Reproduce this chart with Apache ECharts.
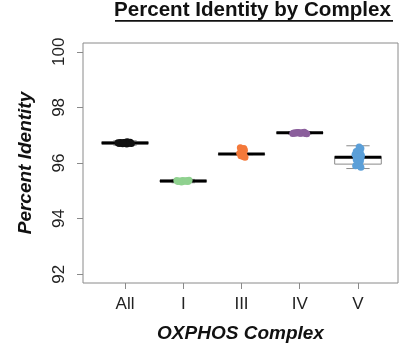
<!DOCTYPE html>
<html><head><meta charset="utf-8">
<script src="https://cdn.jsdelivr.net/npm/echarts@6/dist/echarts.min.js"></script>
<style>html,body{margin:0;padding:0;background:#fff}#c{width:401px;height:348px}</style>
</head><body><div id="c"></div>
<script>
const categories = ['All', 'I', 'III', 'IV', 'V'];
const yTicks = [92, 94, 96, 98, 100];
// box stats: [min, q1, median, q3, max]
const boxAll = [96.64, 96.69, 96.72, 96.76, 96.80];
const boxI   = [95.29, 95.32, 95.35, 95.38, 95.41];
const boxIII = [96.30, 96.315, 96.32, 96.325, 96.34];
const boxIV  = [97.04, 97.07, 97.09, 97.10, 97.12];
const boxV   = [95.80, 95.96, 96.21, 96.23, 96.62];
// points (values) and horizontal jitter (category units)
const ptsAll = [96.70, 96.72, 96.74, 96.71, 96.73, 96.75, 96.69, 96.72, 96.76, 96.70, 96.74, 96.68, 96.73, 96.71, 96.75, 96.72];
const jitAll = [-0.10, -0.06, -0.02, 0.02, 0.06, 0.09, -0.04, 0.00, 0.04, 0.11, -0.08, 0.03, -0.12, 0.08, 0.01, -0.03];
const ptsI = [95.33, 95.35, 95.37, 95.34, 95.36, 95.38, 95.32, 95.35, 95.36, 95.34, 95.37, 95.33];
const jitI = [-0.09, -0.05, -0.01, 0.03, 0.07, 0.10, -0.03, 0.01, 0.05, -0.07, -0.11, 0.08];
const ptsIII = [96.55, 96.52, 96.46, 96.40, 96.35, 96.32, 96.29, 96.26, 96.23, 96.21];
const jitIII = [-0.02, 0.04, 0.05, 0.03, -0.03, 0.02, 0.04, -0.01, 0.03, 0.06];
const ptsIV = [97.06, 97.08, 97.10, 97.07, 97.09, 97.11, 97.05, 97.08, 97.10, 97.07, 97.09, 97.06, 97.08];
const jitIV = [-0.12, -0.08, -0.04, 0.00, 0.04, 0.08, 0.12, -0.06, -0.02, 0.02, 0.06, 0.10, -0.10];
const ptsV = [96.58, 96.52, 96.46, 96.41, 96.36, 96.31, 96.27, 96.24, 96.21, 96.17, 96.12, 96.06, 95.98, 95.90, 95.85];
const jitV = [0.02, 0.05, 0.01, -0.03, 0.04, -0.05, 0.06, -0.03, 0.00, 0.05, -0.03, 0.04, 0.01, -0.04, 0.05];
const colors = ['#111111', '#8fd18f', '#f4793a', '#8b5f9c', '#5b9fd8'];

const boxes = [boxAll, boxI, boxIII, boxIV, boxV];
const pts = [ptsAll, ptsI, ptsIII, ptsIV, ptsV];
const jits = [jitAll, jitI, jitIII, jitIV, jitV];
const FONT = '"Liberation Sans", Arial, sans-serif';

const chart = echarts.init(document.getElementById('c'), null, {renderer: 'canvas'});
const boxData = boxes.map((b, i) => [i + 1].concat(b));
const scatterSeries = pts.map((p, i) => ({
  type: 'scatter',
  data: p.map((v, k) => [i + 1 + jits[i][k], v]),
  symbol: 'circle',
  symbolSize: 7,
  itemStyle: {color: colors[i], opacity: 1},
  z: 5,
  silent: true
}));

chart.setOption({
  animation: false,
  grid: {left: 83, right: 3, top: 43, bottom: 60, show: true, borderColor: '#8a8a8a', borderWidth: 1, backgroundColor: 'transparent'},
  graphic: [
    {type: 'text', left: 114, top: 0, style: {text: 'Percent Identity by Complex', font: 'bold 20.6px ' + FONT, fill: '#111'}},
    {type: 'rect', shape: {x: 115, y: 20, width: 278, height: 1.8}, style: {fill: '#111'}}
  ],
  xAxis: {
    type: 'value', min: 0.279, max: 5.687,
    splitLine: {show: false},
    axisLine: {show: false},
    axisTick: {show: true, customValues: [1, 2, 3, 4, 5], length: 6, lineStyle: {color: '#8a8a8a'}},
    axisLabel: {customValues: [1, 2, 3, 4, 5], formatter: v => categories[Math.round(v) - 1], fontSize: 17, color: '#222', margin: 13, fontFamily: FONT},
    name: 'OXPHOS Complex', nameLocation: 'middle', nameGap: 41,
    nameTextStyle: {fontSize: 19, fontWeight: 'bold', fontStyle: 'italic', color: '#111', fontFamily: FONT}
  },
  yAxis: {
    type: 'value', min: 91.683, max: 100.317,
    splitLine: {show: false},
    axisLine: {show: false},
    axisTick: {show: true, customValues: yTicks, length: 6, lineStyle: {color: '#8a8a8a'}},
    axisLabel: {customValues: yTicks, rotate: 90, fontSize: 17, color: '#222', margin: 15, fontFamily: FONT},
    name: 'Percent Identity', nameLocation: 'middle', nameRotate: 90, nameGap: 48,
    nameTextStyle: {fontSize: 19, fontWeight: 'bold', fontStyle: 'italic', color: '#111', fontFamily: FONT}
  },
  series: [{
    type: 'custom',
    data: boxData,
    z: 2,
    silent: true,
    encode: {x: 0, y: [1, 2, 3, 4, 5]},
    renderItem: function (params, api) {
      const x = api.value(0);
      const mn = api.coord([x, api.value(1)]);
      const q1 = api.coord([x, api.value(2)]);
      const md = api.coord([x, api.value(3)]);
      const q3 = api.coord([x, api.value(4)]);
      const mx = api.coord([x, api.value(5)]);
      const bw = api.size([0.8, 0])[0];
      const h = bw / 2, c = bw / 4;
      const grey = {stroke: '#8a8a8a', lineWidth: 1};
      return {type: 'group', children: [
        {type: 'line', shape: {x1: mx[0], y1: mx[1], x2: q3[0], y2: q3[1]}, style: grey},
        {type: 'line', shape: {x1: mn[0], y1: mn[1], x2: q1[0], y2: q1[1]}, style: grey},
        {type: 'line', shape: {x1: mx[0] - c, y1: mx[1], x2: mx[0] + c, y2: mx[1]}, style: grey},
        {type: 'line', shape: {x1: mn[0] - c, y1: mn[1], x2: mn[0] + c, y2: mn[1]}, style: grey},
        {type: 'rect', shape: {x: q3[0] - h, y: q3[1], width: bw, height: Math.max(q1[1] - q3[1], 0.5)}, style: {fill: '#fff', stroke: '#8a8a8a', lineWidth: 1}},
        {type: 'line', shape: {x1: md[0] - h, y1: md[1], x2: md[0] + h, y2: md[1]}, style: {stroke: '#000', lineWidth: 3}}
      ]};
    }
  }].concat(scatterSeries)
});
</script></body></html>
